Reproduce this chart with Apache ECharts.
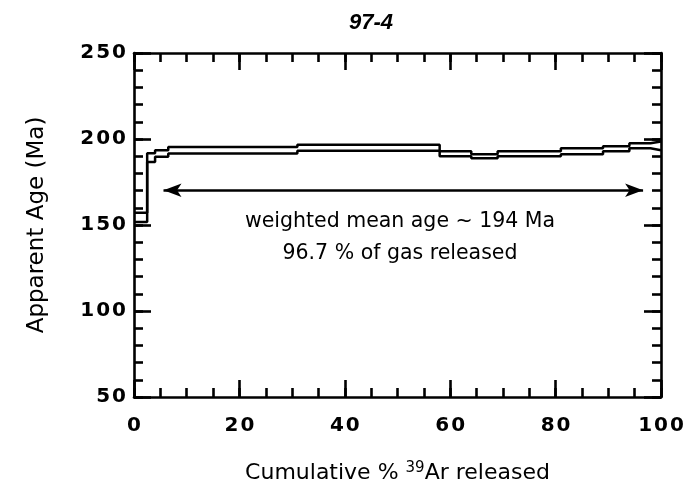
<!DOCTYPE html>
<html>
<head>
<meta charset="utf-8">
<script src="https://cdn.jsdelivr.net/npm/echarts@6/dist/echarts.min.js"></script>
<style>
html,body{margin:0;padding:0;background:#fff;}
#chart{width:697px;height:497px;}
</style>
</head>
<body>
<div id="chart"></div>
<script>
// Age spectrum steps: cumulative % 39Ar (start, end) and apparent age band (low, high) in Ma
const stepStart = [0, 2.5, 4, 6.5, 31, 58, 64, 69, 81, 89, 94, 98];
const stepEnd   = [2.5, 4, 6.5, 31, 58, 64, 69, 81, 89, 94, 98, 100];
const ageLow    = [151.8, 186.7, 189.7, 191.5, 193.2, 190, 188.8, 190, 191.2, 192.9, 194.6, 193.5];
const ageHigh   = [157.1, 191.7, 193.5, 195.3, 196.7, 192.9, 191.2, 192.9, 194.6, 195.8, 197.5, 198.6];

// Plateau arrow (cumulative % range and age level)
const plateauX = [5.6, 96.6];
const plateauAge = 170.2;

const titleText = '97-4';
const noteLines = ['weighted mean age ~ 194 Ma', '96.7 % of gas released'];

const FONT = 'DejaVu Sans';

const chart = echarts.init(document.getElementById('chart'), null, {renderer: 'canvas'});

// Build upper and lower step outlines from the step arrays
const upperLine = [];
const lowerLine = [];
stepStart.forEach((s, i) => {
  upperLine.push([s, ageHigh[i]], [stepEnd[i], ageHigh[i]]);
  lowerLine.push([s, ageLow[i]], [stepEnd[i], ageLow[i]]);
});

const LINE = {color: '#000', width: 2.6};
const digitFormatter = v => String(v).split('').map(c => '{d|' + c + '}').join('');
const digitRich = {d: {fontFamily: FONT, fontSize: 20, fontWeight: 'bold', color: '#000', padding: [0, 1, 0, 1]}};

function majorAxis(extra) {
  return Object.assign({
    type: 'value',
    axisLine: {show: true, onZero: false, lineStyle: LINE},
    axisTick: {show: true, inside: true, length: 17, lineStyle: LINE},
    splitLine: {show: false},
    axisLabel: {show: false}
  }, extra);
}
function minorAxis(extra) {
  return Object.assign({
    type: 'value',
    axisLine: {show: false, onZero: false},
    axisTick: {show: true, inside: true, length: 9, lineStyle: LINE},
    splitLine: {show: false},
    axisLabel: {show: false}
  }, extra);
}

const option = {
  backgroundColor: '#fff',
  animation: false,
  title: {
    text: titleText,
    left: 366, top: 7, textAlign: 'center',
    textStyle: {fontFamily: 'Liberation Sans', fontSize: 22, fontWeight: 'bold', fontStyle: 'italic', color: '#000'}
  },
  grid: {left: 134, right: 36, top: 53, bottom: 100},
  xAxis: [
    majorAxis({
      min: 0, max: 100, interval: 20, position: 'bottom',
      axisLabel: {show: true, formatter: digitFormatter, rich: digitRich, margin: 19},
      name: '{a|Cumulative % }{s|39}{a|Ar released}',
      nameLocation: 'middle', nameGap: 64,
      nameTextStyle: {
        rich: {
          a: {fontFamily: FONT, fontSize: 22, color: '#000'},
          s: {fontFamily: FONT, fontSize: 15, color: '#000', verticalAlign: 'top', padding: [0, 0, 10, 0]}
        }
      }
    }),
    majorAxis({min: 0, max: 100, interval: 20, position: 'top'}),
    minorAxis({min: 0, max: 100, interval: 5, position: 'bottom'}),
    minorAxis({min: 0, max: 100, interval: 5, position: 'top'})
  ],
  yAxis: [
    majorAxis({
      min: 50, max: 250, interval: 50, position: 'left',
      axisLabel: {show: true, formatter: digitFormatter, rich: digitRich, margin: 7},
      name: 'Apparent Age (Ma)', nameLocation: 'middle', nameGap: 85,
      nameTextStyle: {fontFamily: FONT, fontSize: 23, color: '#000'}
    }),
    majorAxis({min: 50, max: 250, interval: 50, position: 'right'}),
    minorAxis({min: 50, max: 250, interval: 10, position: 'left'}),
    minorAxis({min: 50, max: 250, interval: 10, position: 'right'})
  ],
  series: [
    {
      type: 'line', xAxisIndex: 0, yAxisIndex: 0,
      data: upperLine, showSymbol: false, symbol: 'none',
      lineStyle: {color: '#000', width: 2.5}, z: 3
    },
    {
      type: 'line', xAxisIndex: 0, yAxisIndex: 0,
      data: lowerLine, showSymbol: false, symbol: 'none',
      lineStyle: {color: '#000', width: 2.5}, z: 3
    },
    {
      type: 'line', xAxisIndex: 0, yAxisIndex: 0,
      data: [],
      markLine: {
        silent: true,
        symbol: ['arrow', 'arrow'],
        symbolSize: [10, 18],
        label: {show: false},
        lineStyle: {color: '#000', width: 2.5, type: 'solid'},
        data: [[{coord: [plateauX[0], plateauAge]}, {coord: [plateauX[1], plateauAge]}]]
      }
    }
  ],
  graphic: [
    {type: 'text', x: 400, y: 222, style: {text: noteLines[0], fontFamily: FONT, fontSize: 20.5, fill: '#000', textAlign: 'center', textVerticalAlign: 'middle'}},
    {type: 'text', x: 400, y: 254, style: {text: noteLines[1], fontFamily: FONT, fontSize: 20.5, fill: '#000', textAlign: 'center', textVerticalAlign: 'middle'}}
  ]
};

chart.setOption(option);
</script>
</body>
</html>
